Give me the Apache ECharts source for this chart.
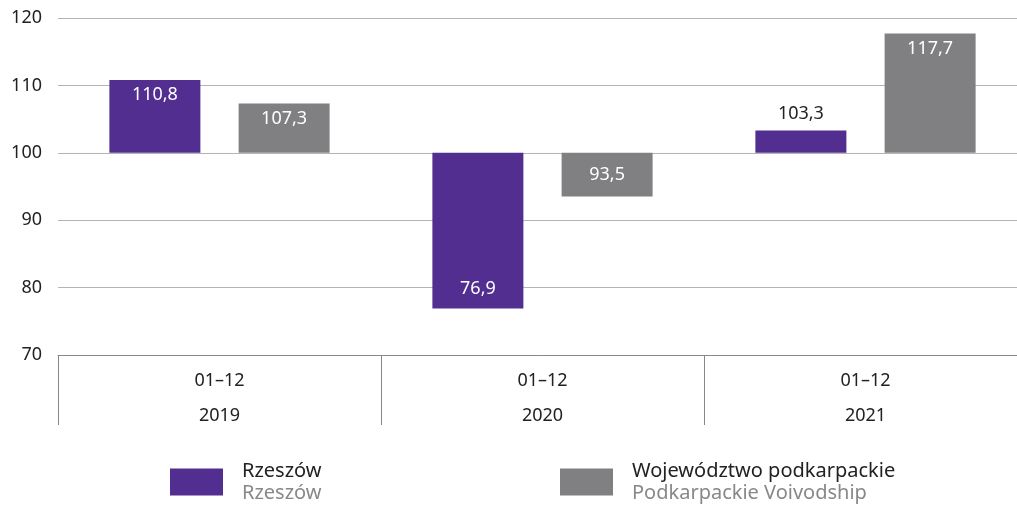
<!DOCTYPE html>
<html>
<head>
<meta charset="utf-8">
<script src="https://cdn.jsdelivr.net/npm/echarts@6/dist/echarts.min.js"></script>
<style>
  html, body { margin: 0; padding: 0; background: #fff; }
  #chart { width: 1017px; height: 505px; }
</style>
</head>
<body>
<div id="chart"></div>
<script>
// data
const periods = ['01–12', '01–12', '01–12'];
const years = ['2019', '2020', '2021'];
const rzeszow = [110.8, 76.9, 103.3];
const podkarpackie = [107.3, 93.5, 117.7];
const seriesNames = ['Rzeszów', 'Województwo podkarpackie'];
const seriesNamesEn = ['Rzeszów', 'Podkarpackie Voivodship'];
const yTicks = [70, 80, 90, 100, 110, 120];

const BASE = 100;
const FONT = '"Noto Sans", sans-serif';
const PURPLE = '#512e8f';
const GREY = '#808083';

const fmt = v => v.toFixed(1).replace('.', ',');

// label placement relative to the 100 baseline
function labelFor(v) {
    const d = Math.abs(v - BASE);
    if (d < 5) return { position: 'top', distance: 8, color: '#222' };
    if (v > BASE) return { position: 'insideTop', distance: 6, color: '#fff' };
    if (d > 10) return { position: 'insideBottom', distance: 11, color: '#fff' };
    return { position: 'inside', color: '#fff' };
}

function baseSeries(vals, stack) {
    return {
        type: 'bar', stack: stack, silent: true,
        barWidth: 91, barGap: '42%',
        itemStyle: { color: 'transparent' },
        data: vals.map(v => Math.min(v, BASE))
    };
}

function diffSeries(name, vals, stack, color) {
    return {
        name: name, type: 'bar', stack: stack,
        barWidth: 91, barGap: '42%',
        itemStyle: { color: color },
        label: { show: true, fontFamily: FONT, fontSize: 18, formatter: p => fmt(vals[p.dataIndex]) },
        data: vals.map(v => ({ value: Math.abs(v - BASE), label: labelFor(v) }))
    };
}

function legendFor(i, left) {
    return {
        data: [seriesNames[i]], left: left, top: 461, padding: 0,
        itemWidth: 53, itemHeight: 27, icon: 'rect',
        selectedMode: false,
        formatter: () => '{a|' + seriesNames[i] + '}\n{b|' + seriesNamesEn[i] + '}',
        textStyle: {
            padding: [0, 0, 0, 14],
            rich: {
                a: { fontFamily: FONT, fontSize: 20, color: '#222', lineHeight: 22 },
                b: { fontFamily: FONT, fontSize: 20, color: '#888', lineHeight: 22 }
            }
        }
    };
}

const chart = echarts.init(document.getElementById('chart'));
chart.setOption({
    animation: false,
    color: [PURPLE, GREY],
    grid: { left: 58, width: 969, top: 18, bottom: 150, containLabel: false, outerBoundsMode: 'none' },
    legend: [legendFor(0, 170), legendFor(1, 560)],
    xAxis: {
        type: 'category',
        data: periods.map((p, i) => p + '\n' + years[i]),
        axisLine: { lineStyle: { color: '#888', width: 1 } },
        axisTick: { show: true, interval: 0, length: 70, lineStyle: { color: '#888' } },
        axisLabel: { fontFamily: FONT, fontSize: 18, color: '#222', lineHeight: 35, margin: 8 }
    },
    yAxis: {
        type: 'value',
        min: yTicks[0], max: yTicks[yTicks.length - 1], interval: 10,
        axisLine: { show: false },
        axisTick: { show: false },
        axisLabel: { fontFamily: FONT, fontSize: 18, color: '#222', margin: 16 },
        splitLine: { lineStyle: { color: '#b4b4b4' } }
    },
    series: [
        baseSeries(rzeszow, 'r'),
        diffSeries(seriesNames[0], rzeszow, 'r', PURPLE),
        baseSeries(podkarpackie, 'p'),
        diffSeries(seriesNames[1], podkarpackie, 'p', GREY)
    ]
});
</script>
</body>
</html>
